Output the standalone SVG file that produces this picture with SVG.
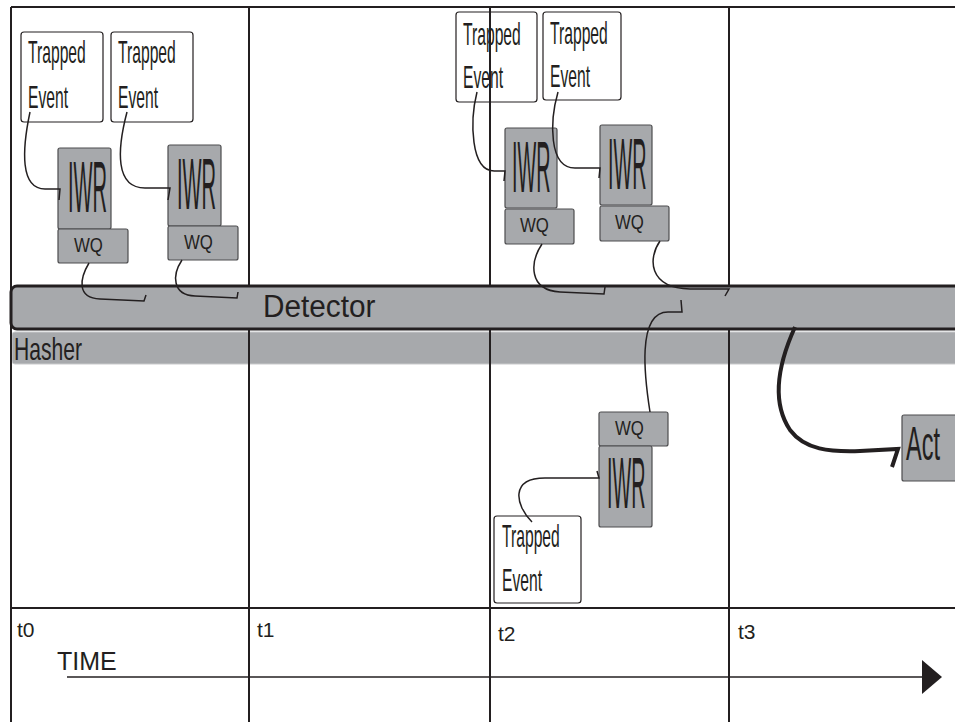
<svg xmlns="http://www.w3.org/2000/svg" width="955" height="722" viewBox="0 0 955 722">
<style>
.grid{stroke:#231f20;stroke-width:2;fill:none}
.gbox{fill:#a7a9ac;stroke:#4d4d4f;stroke-width:1.2}
.tbox{fill:none;stroke:#231f20;stroke-width:1.2}
.t{font-family:"Liberation Sans",Arial,sans-serif;fill:#231f20}
.tr{font-size:32px}
.iwr{font-size:72px}
.wq{font-size:20px}
.c{fill:none;stroke:#231f20;stroke-width:1.5;stroke-linejoin:miter}
.ct{fill:none;stroke:#231f20;stroke-width:4}
</style>
<rect width="955" height="722" fill="#fff"/>
<g id="hasher">
<rect x="12" y="332" width="950" height="32" rx="3" fill="#a7a9ac" stroke="#c9cacc" stroke-width="1"/>
<text class="t" font-size="32" transform="translate(14,360) scale(0.66,1)">Hasher</text>
</g>
<g id="grid">
<path class="grid" d="M11,7V722M11,7H955M249,7V722M490,7V722M729,7V722M11,608H955"/>
</g>
<g id="detector">
<rect x="11" y="286" width="960" height="43" rx="6" fill="#a7a9ac" stroke="#231f20" stroke-width="3"/>
<text class="t" font-size="31" transform="translate(263,317) scale(0.96,1)">Detector</text>
</g>
<g id="te1"><rect class="tbox" x="21" y="32" width="82" height="90" rx="3"/>
<text class="t tr" transform="translate(28,63) scale(0.49,1)">Trapped</text>
<text class="t tr" transform="translate(28,108) scale(0.49,1)">Event</text></g>
<g id="te2"><rect class="tbox" x="111" y="32" width="82" height="90" rx="3"/>
<text class="t tr" transform="translate(118,63) scale(0.49,1)">Trapped</text>
<text class="t tr" transform="translate(118,108) scale(0.49,1)">Event</text></g>
<g id="iwr1"><rect class="gbox" x="58" y="148" width="53" height="81" rx="2"/>
<text class="t iwr" transform="translate(68,212) scale(0.28,1)">IWR</text></g>
<g id="wq1"><rect class="gbox" x="58" y="229" width="70" height="34" rx="2"/>
<text class="t wq" transform="translate(74,252) scale(0.84,1)">WQ</text></g>
<g id="iwr2"><rect class="gbox" x="168" y="145" width="53" height="81" rx="2"/>
<text class="t iwr" transform="translate(177,209) scale(0.28,1)">IWR</text></g>
<g id="wq2"><rect class="gbox" x="168" y="226" width="70" height="34" rx="2"/>
<text class="t wq" transform="translate(184,249) scale(0.84,1)">WQ</text></g>
<g id="te3"><rect class="tbox" x="456" y="12" width="81" height="90" rx="3"/>
<text class="t tr" transform="translate(463,45) scale(0.49,1)">Trapped</text>
<text class="t tr" transform="translate(463,88) scale(0.49,1)">Event</text></g>
<g id="te4"><rect class="tbox" x="543" y="12" width="78" height="88" rx="3"/>
<text class="t tr" transform="translate(550,44) scale(0.49,1)">Trapped</text>
<text class="t tr" transform="translate(550,87) scale(0.49,1)">Event</text></g>
<g id="iwr3"><rect class="gbox" x="505" y="128" width="52" height="80" rx="2"/>
<text class="t iwr" transform="translate(512,192) scale(0.275,1)">IWR</text></g>
<g id="wq3"><rect class="gbox" x="505" y="209" width="69" height="35" rx="2"/>
<text class="t wq" transform="translate(520,232) scale(0.84,1)">WQ</text></g>
<g id="iwr4"><rect class="gbox" x="600" y="125" width="52" height="80" rx="2"/>
<text class="t iwr" transform="translate(608,189) scale(0.275,1)">IWR</text></g>
<g id="wq4"><rect class="gbox" x="600" y="206" width="69" height="35" rx="2"/>
<text class="t wq" transform="translate(615,229) scale(0.84,1)">WQ</text></g>
<g id="wq5"><rect class="gbox" x="599" y="412" width="69" height="34" rx="2"/>
<text class="t wq" transform="translate(615,435) scale(0.84,1)">WQ</text></g>
<g id="iwr5"><rect class="gbox" x="599" y="446" width="53" height="81" rx="2"/>
<text class="t iwr" transform="translate(607,508) scale(0.275,1)">IWR</text></g>
<g id="te5"><rect class="tbox" x="494" y="516" width="87" height="87" rx="3"/>
<text class="t tr" transform="translate(502,547) scale(0.49,1)">Trapped</text>
<text class="t tr" transform="translate(502,591) scale(0.49,1)">Event</text></g>
<g id="act"><rect class="gbox" x="902" y="415" width="62" height="66" rx="2"/>
<text class="t" font-size="48" transform="translate(906,460) scale(0.49,1)">Act</text></g>
<g id="labels">
<text class="t" x="17" y="637" font-size="21">t0</text>
<text class="t" x="257" y="637" font-size="21">t1</text>
<text class="t" x="498" y="641" font-size="21">t2</text>
<text class="t" x="738" y="639" font-size="21">t3</text>
<text class="t" x="57" y="670" font-size="25">TIME</text>
</g>
<g id="connectors">
<path class="c" d="M30,112 C22,150 20,189 45,189 L60,189 L59,200"/>
<path class="c" d="M127,112 C117,150 115,188 145,188 L170,188 L168,200"/>
<path class="c" d="M89,263 C80,278 76,298 100,299 L144,301 L146,295"/>
<path class="c" d="M182,260 C172,275 172,295 195,296 L237,298 L238,292"/>
<path class="c" d="M477,92 C470,120 470,172 495,171 L505,171 L504,181"/>
<path class="c" d="M558,92 C550,120 548,168 575,168 L600,168 L599,178"/>
<path class="c" d="M542,244 C530,262 528,290 560,292 L604,294 L605,287"/>
<path class="c" d="M660,241 C648,258 648,288 690,289 L729,289 L725,296"/>
<path class="c" d="M650,412 C645,380 636,312 668,312 L682,312 L681,300"/>
<path class="c" d="M532,522 C515,505 510,478 545,478 L599,478 L597,471"/>
<path class="ct" d="M795,327 C780,360 770,400 790,430 C805,450 830,452 860,451 L898,449 L892,467"/>
<path class="c" d="M67,677 L924,677"/>
<polygon points="922,660 942,677 922,694" fill="#231f20"/>
</g>
</svg>
